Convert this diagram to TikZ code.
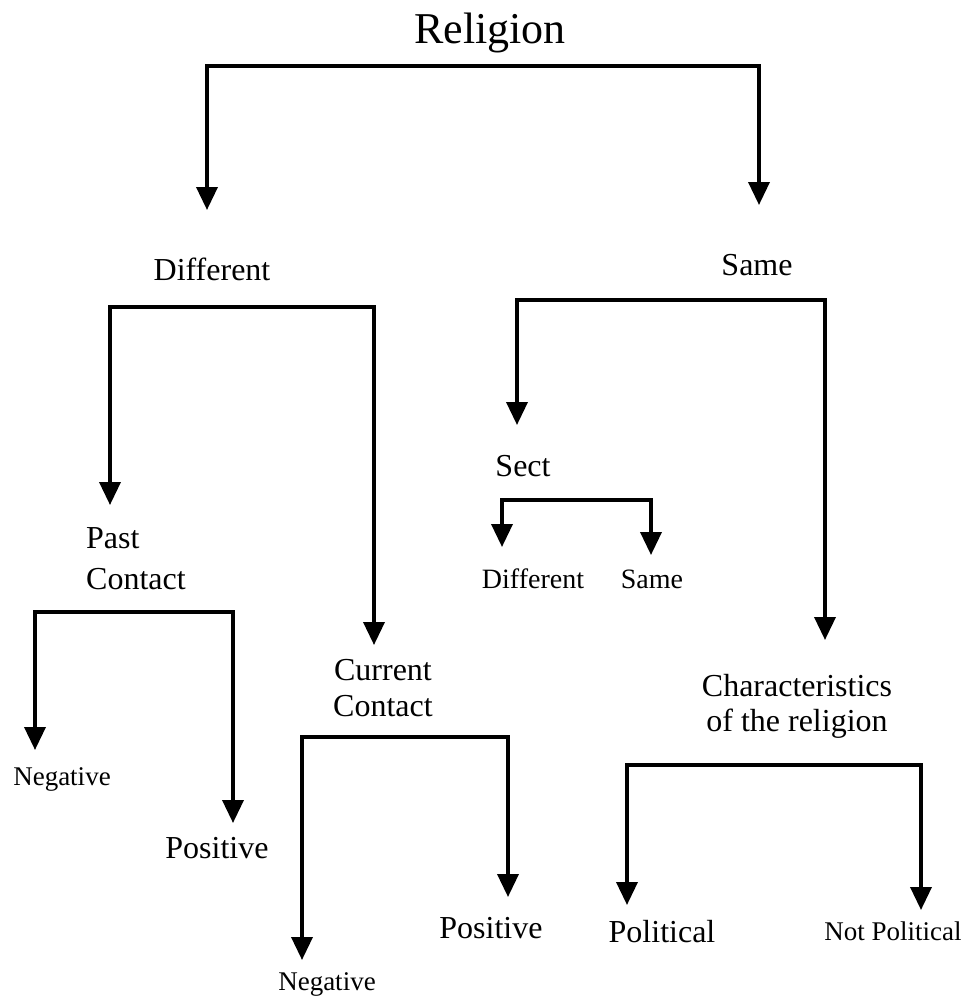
\documentclass[tikz,border=0pt]{standalone}
\usepackage{fontspec}
\setmainfont{Liberation Serif}
\usetikzlibrary{arrows.meta}
\begin{document}
\begin{tikzpicture}[x=1pt,y=-1pt,
  lbl/.style={inner sep=0pt, anchor=base, align=center},
  big/.style={font=\fontsize{44}{48}\selectfont},
  mid/.style={font=\fontsize{32}{38}\selectfont},
  sml/.style={font=\fontsize{28}{34}\selectfont},
  tiny/.style={font=\fontsize{27}{32}\selectfont},
  brk/.style={line width=3.6pt, line join=miter, {Triangle[width=21pt,length=23pt]}-{Triangle[width=21pt,length=23pt]}}
]
\useasboundingbox (0,0) rectangle (969,1001);
% nodes
\node[lbl,big] (rel) at (490,43) {Religion};
\node[lbl,mid] (diff) at (212,280) {Different};
\node[lbl,mid] (same) at (757,275) {Same};
\node[lbl,mid,align=left,anchor=base west] (past) at (86,589) {Past\\[3pt]Contact};
\node[lbl,mid,align=center] (cur) at (383,716) {Current\\[-2pt]Contact};
\node[lbl,tiny] (neg1) at (62,785) {Negative};
\node[lbl,mid] (pos1) at (217,858) {Positive};
\node[lbl,mid] (pos2) at (491,938) {Positive};
\node[lbl,tiny] (neg2) at (327,990) {Negative};
\node[lbl,mid] (sect) at (523,476) {Sect};
\node[lbl,sml] (sdiff) at (533,588) {Different};
\node[lbl,sml] (ssame) at (652,588) {Same};
\node[lbl,mid,align=center] (char) at (797,731) {Characteristics\\[-3pt]of the religion};
\node[lbl,mid] (pol) at (662,942) {Political};
\node[lbl,tiny] (npol) at (893,940) {Not Political};
% bracket coordinates
\coordinate (r1) at (207,210); \coordinate (r2) at (759,205); \coordinate (rt) at (483,66);
\coordinate (d1) at (110,505); \coordinate (d2) at (374,645); \coordinate (dt) at (242,307);
\coordinate (p1) at (35,750); \coordinate (p2) at (233,823); \coordinate (pt) at (134,612);
\coordinate (c1) at (302,960); \coordinate (c2) at (508,897); \coordinate (ct) at (405,737);
\coordinate (s1) at (517,425); \coordinate (s2) at (825,640); \coordinate (st) at (671,300);
\coordinate (e1) at (502,547); \coordinate (e2) at (651,555); \coordinate (et) at (576,500);
\coordinate (h1) at (627,905); \coordinate (h2) at (921,910); \coordinate (ht) at (774,765);
% connectors
\draw[brk] (r1) |- (rt) -| (r2);
\draw[brk] (d1) |- (dt) -| (d2);
\draw[brk] (p1) |- (pt) -| (p2);
\draw[brk] (c1) |- (ct) -| (c2);
\draw[brk] (s1) |- (st) -| (s2);
\draw[brk] (e1) |- (et) -| (e2);
\draw[brk] (h1) |- (ht) -| (h2);
\end{tikzpicture}
\end{document}
